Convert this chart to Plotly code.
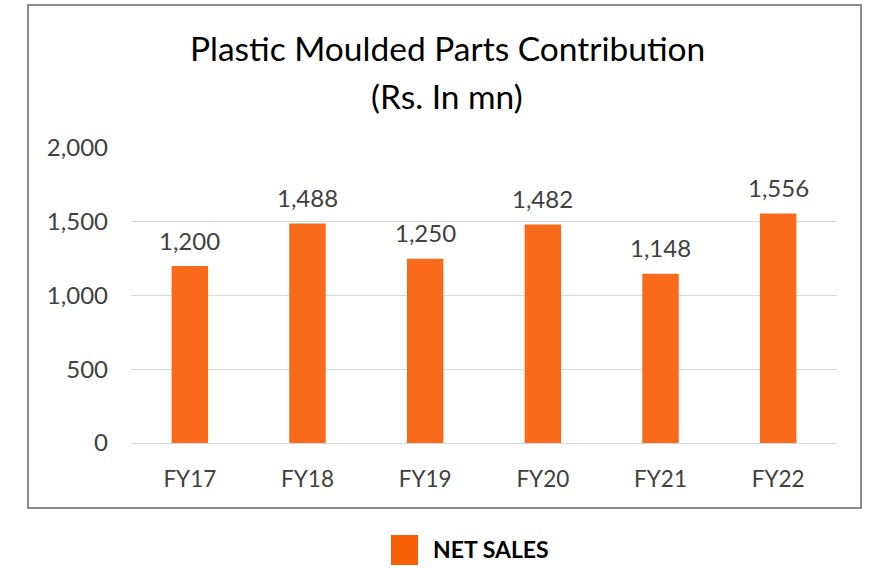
import plotly.graph_objects as go

categories = ["FY17", "FY18", "FY19", "FY20", "FY21", "FY22"]
net_sales = [1200, 1488, 1250, 1482, 1148, 1556]
y_ticks = [0, 500, 1000, 1500, 2000]
series_name = "NET SALES"
title_line1 = "Plastic Moulded Parts Contribution"
title_line2 = "(Rs. In mn)"

BAR = "#F96B1B"
FONT = "Lato"
TXT = "#404040"

# plot area on screen: x 131..837, y 148..443 (page margin removed below)
PL, PR, PT, PB = 131, 837, 148, 443
W, H = 869, 568
PW, PH = PR - PL, PB - PT

def px(xs):
    return (xs - PL) / PW

def py(ys):
    return (PB - ys) / PH

fig = go.Figure()
fig.add_trace(go.Bar(x=categories, y=net_sales, name=series_name,
                     marker=dict(color=BAR, line=dict(width=0)),
                     showlegend=False))

annotations = []
for c, v in zip(categories, net_sales):
    annotations.append(dict(x=c, y=v, xref="x", yref="y", text=f"{v:,}",
                            showarrow=False, yanchor="middle", yshift=26,
                            font=dict(family=FONT, size=24, color=TXT)))
annotations.append(dict(x=px(447), y=py(48), xref="paper", yref="paper",
                        text=title_line1, showarrow=False,
                        xanchor="center", yanchor="middle",
                        font=dict(family=FONT, size=33.5, color="#000000")))
annotations.append(dict(x=px(447), y=py(96), xref="paper", yref="paper",
                        text=title_line2, showarrow=False,
                        xanchor="center", yanchor="middle",
                        font=dict(family=FONT, size=33.5, color="#000000")))
annotations.append(dict(x=px(431), y=py(549), xref="paper", yref="paper",
                        text="<b>" + series_name + "</b>", showarrow=False,
                        xanchor="left", yanchor="middle",
                        font=dict(family=FONT, size=23, color="#000000")))

shapes = [
    dict(type="rect", xref="paper", yref="paper",
         x0=px(28), x1=px(861), y0=py(508), y1=py(5),
         line=dict(color="#8c8c8c", width=2), fillcolor="rgba(0,0,0,0)"),
    dict(type="rect", xref="paper", yref="paper",
         x0=px(391), x1=px(418), y0=py(565), y1=py(535),
         line=dict(width=0), fillcolor="#F75E05"),
]

fig.update_layout(
    width=W, height=H,
    margin=dict(l=PL, r=W - PR, t=PT, b=H - PB),
    paper_bgcolor="white", plot_bgcolor="white",
    bargap=0.69,
    annotations=annotations, shapes=shapes,
    showlegend=False,
    hovermode=False,
    font=dict(family=FONT, color=TXT),
)
fig.update_yaxes(range=[0, 2000], tickvals=y_ticks, tickformat=",d",
                 showgrid=True, gridcolor="#d9d9d9", gridwidth=1,
                 zeroline=True, zerolinecolor="#d9d9d9", zerolinewidth=1,
                 showline=False, ticks="", ticklabelstandoff=22,
                 tickfont=dict(family=FONT, size=24, color=TXT), fixedrange=True)
fig.update_xaxes(showgrid=False, showline=False, ticks="",
                 ticklabelstandoff=20,
                 tickfont=dict(family=FONT, size=22.5, color=TXT), fixedrange=True)

fig.write_html("out.html", config={"displayModeBar": False},
               post_script="document.body.style.margin='0';document.body.style.overflow='hidden';")
